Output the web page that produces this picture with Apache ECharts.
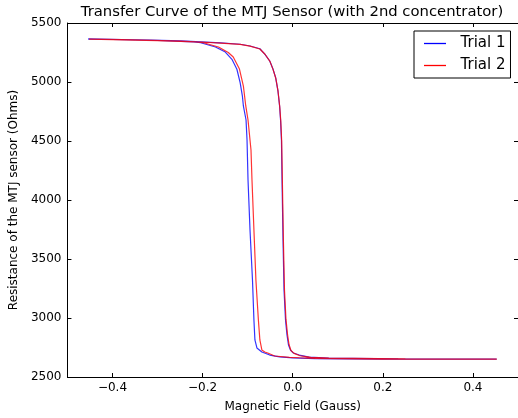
<!DOCTYPE html>
<html>
<head>
<meta charset="utf-8">
<script src="https://cdn.jsdelivr.net/npm/echarts@6/dist/echarts.min.js"></script>
<style>
  html, body { margin: 0; padding: 0; background: #fff; }
  #chart { width: 518px; height: 418px; }
</style>
</head>
<body>
<div id="chart"></div>
<script>
// Hysteresis loop of the MTJ sensor: field (Gauss) vs resistance (Ohms).
// Each trial is traced as one loop: up-sweep along the top, down the right
// switching branch, out along the low state, then back and up the left branch.
const trial1Field = [
  -0.454, -0.379, -0.314, -0.248, -0.204, -0.160, -0.1167, -0.0948, -0.0729, -0.0620,
  -0.0510, -0.0438, -0.0379, -0.0328, -0.0291, -0.0270, -0.0250, -0.0237, -0.0215, -0.0193,
  -0.016, -0.0127, -0.0094, -0.005, 0.0015, 0.0147, 0.0366, 0.08, 0.234, 0.4526,
  0.4526, 0.2, 0.05, 0.0, -0.0072, -0.0291, -0.0510, -0.0685, -0.0795, -0.0839,
  -0.0861, -0.0893, -0.0948, -0.0992, -0.1014, -0.1036, -0.1095, -0.1117, -0.1167, -0.1239,
  -0.1349, -0.1496, -0.1715, -0.2043, -0.2196, -0.30, -0.40, -0.454
];
const trial1Resistance = [
  5365, 5360, 5355, 5348, 5340, 5331, 5320, 5305, 5282, 5237,
  5178, 5110, 5037, 4924, 4797, 4678, 4509, 4170, 3661, 3237,
  2983, 2856, 2771, 2729, 2703, 2686, 2669, 2661, 2654, 2652,
  2650, 2652, 2656, 2662, 2665, 2670, 2686, 2712, 2746, 2814,
  2983, 3322, 3746, 4170, 4509, 4678, 4797, 4881, 4994, 5108,
  5192, 5254, 5297, 5333, 5340, 5352, 5360, 5364
];
const trial2Field = [
  -0.452, -0.38, -0.31, -0.25, -0.204, -0.16, -0.1167, -0.0948, -0.0729, -0.0615,
  -0.0505, -0.0435, -0.0375, -0.0325, -0.0288, -0.0265, -0.0245, -0.0230, -0.0207, -0.0183,
  -0.015, -0.0115, -0.0082, -0.004, 0.003, 0.016, 0.04, 0.08, 0.25, 0.453,
  0.453, 0.2, 0.05, 0.0147, -0.0072, -0.0401, -0.0554, -0.0620, -0.0685, -0.0729,
  -0.0762, -0.0817, -0.0861, -0.0904, -0.0926, -0.0992, -0.1042, -0.1095, -0.1182, -0.1320,
  -0.1430, -0.1649, -0.1977, -0.2153, -0.30, -0.40, -0.452
];
const trial2Resistance = [
  5363, 5359, 5354, 5347, 5339, 5330, 5319, 5304, 5280, 5235,
  5175, 5105, 5030, 4920, 4790, 4670, 4500, 4170, 3660, 3240,
  2990, 2860, 2775, 2725, 2700, 2680, 2666, 2660, 2653, 2651,
  2650, 2652, 2657, 2663, 2667, 2678, 2703, 2712, 2729, 2814,
  2983, 3322, 3746, 4170, 4424, 4678, 4797, 4966, 5110, 5212,
  5250, 5297, 5333, 5340, 5351, 5359, 5363
];
const seriesNames = ['Trial 1', 'Trial 2'];
const xTicks = [-0.4, -0.2, 0.0, 0.2, 0.4];
const yTicks = [2500, 3000, 3500, 4000, 4500, 5000, 5500];

const FONT = 'DejaVu Sans';
const pairs = (xs, ys) => xs.map((x, i) => [x, ys[i]]);
const fmtX = v => Number(v).toFixed(1).replace('-', '\u2212');
const fmtY = v => String(Math.round(v));

const chart = echarts.init(document.getElementById('chart'), null, { renderer: 'canvas' });

const frameAxis = {
  axisLine: { show: true, onZero: false, lineStyle: { color: '#000', width: 1 } },
  splitLine: { show: false }
};

chart.setOption({
  animation: false,
  backgroundColor: '#fff',
  title: {
    text: 'Transfer Curve of the MTJ Sensor (with 2nd concentrator)',
    left: 292,
    top: 5,
    padding: 0,
    textAlign: 'center',
    textStyle: { fontFamily: FONT, fontSize: 14.8, fontWeight: 'normal', color: '#000' }
  },
  legend: {
    data: seriesNames,
    orient: 'vertical',
    left: 414,
    top: 31,
    itemWidth: 22,
    itemHeight: 14,
    itemGap: 7,
    icon: 'path://M0,0 H22 V1.3 H0 Z',
    padding: [5, 5, 5, 10],
    borderColor: '#000',
    borderWidth: 1,
    borderRadius: 0,
    backgroundColor: '#fff',
    formatter: name => '  ' + name,
    textStyle: { fontFamily: FONT, fontSize: 15, color: '#000' }
  },
  grid: { left: 64.5, right: -3, top: 23, bottom: 41, containLabel: false },
  xAxis: [
    Object.assign({}, frameAxis, {
      type: 'value',
      position: 'bottom',
      min: -0.5,
      max: 0.5,
      name: 'Magnetic Field (Gauss)',
      nameLocation: 'middle',
      nameGap: 24,
      nameTextStyle: { fontFamily: FONT, fontSize: 12, color: '#000' },
      axisTick: { show: true, inside: true, length: 4, customValues: xTicks, lineStyle: { color: '#000' } },
      axisLabel: {
        show: true, margin: 5, customValues: xTicks, formatter: fmtX,
        fontFamily: FONT, fontSize: 12, color: '#000'
      }
    }),
    Object.assign({}, frameAxis, {
      type: 'value',
      position: 'top',
      min: -0.5,
      max: 0.5,
      axisTick: { show: true, inside: true, length: 4, customValues: xTicks, lineStyle: { color: '#000' } },
      axisLabel: { show: false }
    })
  ],
  yAxis: [
    Object.assign({}, frameAxis, {
      type: 'value',
      position: 'left',
      min: 2500,
      max: 5500,
      interval: 500,
      name: 'Resistance of the MTJ sensor (Ohms)',
      nameLocation: 'middle',
      nameRotate: 90,
      nameGap: 34,
      nameTextStyle: { fontFamily: FONT, fontSize: 12, color: '#000' },
      axisTick: { show: true, inside: true, length: 4, customValues: yTicks, lineStyle: { color: '#000' } },
      axisLabel: {
        show: true, margin: 6, customValues: yTicks, formatter: fmtY,
        fontFamily: FONT, fontSize: 12, color: '#000'
      }
    }),
    Object.assign({}, frameAxis, {
      type: 'value',
      position: 'right',
      min: 2500,
      max: 5500,
      interval: 500,
      axisTick: { show: true, inside: true, length: 4, lineStyle: { color: '#000' } },
      axisLabel: { show: false }
    })
  ],
  series: [
    {
      name: seriesNames[0],
      type: 'line',
      xAxisIndex: 0,
      yAxisIndex: 0,
      data: pairs(trial1Field, trial1Resistance),
      symbol: 'none',
      smooth: false,
      color: '#0000ff',
      lineStyle: { color: '#0000ff', width: 1.2, opacity: 0.8 },
      z: 2
    },
    {
      name: seriesNames[1],
      type: 'line',
      xAxisIndex: 0,
      yAxisIndex: 0,
      data: pairs(trial2Field, trial2Resistance),
      symbol: 'none',
      smooth: false,
      color: '#ff0000',
      lineStyle: { color: '#ff0000', width: 1.2, opacity: 0.8 },
      z: 3
    }
  ]
});
</script>
</body>
</html>
